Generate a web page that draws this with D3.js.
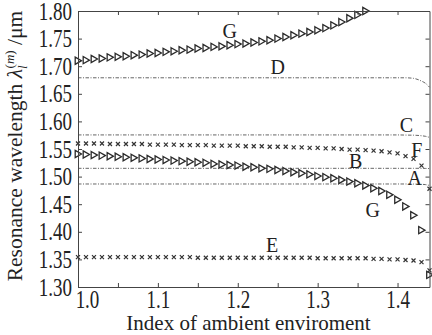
<!DOCTYPE html>
<html><head><meta charset="utf-8">
<script src="https://cdn.jsdelivr.net/npm/d3@7/dist/d3.min.js"></script>
<style>
html,body{margin:0;padding:0;background:#fff;}
svg{display:block;}
text{font-family:"Liberation Serif","Times New Roman",serif;fill:#222;}
</style></head>
<body>
<script>
// ---------- data ----------
const indexN = [1.00,1.01,1.02,1.03,1.04,1.05,1.06,1.07,1.08,1.09,1.10,1.11,1.12,1.13,1.14,1.15,1.16,1.17,1.18,1.19,1.20,1.21,1.22,1.23,1.24,1.25,1.26,1.27,1.28,1.29,1.30,1.31,1.32,1.33,1.34,1.35,1.36,1.37,1.38,1.39,1.40,1.41,1.42,1.43,1.44];
const gUpper = [1.710,1.711,1.713,1.714,1.716,1.717,1.718,1.720,1.721,1.723,1.724,1.726,1.727,1.729,1.730,1.732,1.733,1.735,1.736,1.738,1.740,1.741,1.743,1.745,1.747,1.750,1.753,1.756,1.759,1.762,1.765,1.769,1.774,1.780,1.787,1.793,1.800];
const gLower = [1.541,1.540,1.539,1.538,1.537,1.536,1.535,1.534,1.533,1.532,1.531,1.530,1.529,1.528,1.527,1.526,1.525,1.523,1.522,1.521,1.520,1.518,1.517,1.515,1.514,1.512,1.510,1.508,1.506,1.504,1.501,1.499,1.497,1.494,1.491,1.488,1.484,1.479,1.474,1.467,1.458,1.446,1.430,1.403,1.322];
const seriesF = [1.560,1.560,1.560,1.560,1.559,1.559,1.559,1.559,1.559,1.558,1.558,1.558,1.558,1.557,1.557,1.557,1.557,1.556,1.556,1.556,1.556,1.555,1.555,1.555,1.554,1.554,1.554,1.553,1.553,1.552,1.552,1.551,1.551,1.550,1.549,1.549,1.548,1.547,1.546,1.544,1.542,1.537,1.532,1.520,1.478];
const seriesE = [1.354,1.354,1.354,1.354,1.354,1.354,1.354,1.354,1.354,1.354,1.354,1.354,1.354,1.354,1.354,1.353,1.353,1.353,1.353,1.353,1.353,1.353,1.353,1.353,1.353,1.353,1.353,1.353,1.353,1.353,1.352,1.352,1.352,1.352,1.352,1.352,1.352,1.351,1.351,1.350,1.350,1.349,1.348,1.345,1.330];
const lineX = [1.00,1.10,1.20,1.30,1.35,1.38,1.40,1.41,1.42,1.43,1.435,1.44];
const seriesD = [1.679,1.679,1.679,1.679,1.679,1.679,1.679,1.679,1.678,1.673,1.669,1.662];
const seriesC = [1.5755,1.5755,1.5755,1.5755,1.5755,1.5755,1.5755,1.5752,1.575,1.574,1.573,1.571];
const seriesB = [1.515,1.515,1.515,1.515,1.515,1.515,1.515,1.515,1.515,1.515,1.5148,1.5145];
const seriesA = [1.4866,1.4866,1.4866,1.4866,1.4866,1.4866,1.4866,1.4866,1.4865,1.486,1.4855,1.484];
const labelNames = ["G","D","C","F","B","A","G","E"];
const labelX = [1.190,1.250,1.411,1.424,1.3475,1.4215,1.369,1.243];
const labelY = [1.7505,1.6859,1.5813,1.536,1.5156,1.4848,1.4268,1.3643];
const xTicks = [1.00,1.05,1.10,1.15,1.20,1.25,1.30,1.35,1.40];
const xTickLabels = ["1.0","","1.1","","1.2","","1.3","","1.4"];
const yTicks = [1.30,1.35,1.40,1.45,1.50,1.55,1.60,1.65,1.70,1.75,1.80];
const yTickLabels = ["1.30","1.35","1.40","1.45","1.50","1.55","1.60","1.65","1.70","1.75","1.80"];

// ---------- layout ----------
const W = 432, H = 335;
const L = 78, R = 429.5, T = 11, B = 287;
const svg = d3.select("body").append("svg").attr("width", W).attr("height", H);
const x = d3.scaleLinear().domain([1.0, 1.44]).range([L, R]);
const y = d3.scaleLinear().domain([1.30, 1.80]).range([B, T]);
const ink = "#2a2a2a";

// dash-dot lines
const lineGen = d3.line().x((d,i)=>x(lineX[i])).y(d=>y(d)).curve(d3.curveMonotoneX);
[seriesD, seriesC, seriesB, seriesA].forEach(s=>{
  svg.append("path").attr("d", lineGen(s)).attr("fill","none")
    .attr("stroke","#555").attr("stroke-width",0.9)
    .attr("stroke-dasharray","3.5,1.5,1,1.5");
});

// triangles
const tri = "M-2.8,-3.6L3.5,0L-2.8,3.6Z";
function triSeries(vals){
  svg.append("g").selectAll("path").data(vals).join("path")
    .attr("d", tri).attr("transform",(d,i)=>`translate(${x(indexN[i])},${y(d)})`)
    .attr("fill","#fff").attr("stroke",ink).attr("stroke-width",1.3);
}
triSeries(gUpper); triSeries(gLower);

// x marks
const cross = "M-2,-2L2,2M-2,2L2,-2";
function crossSeries(vals){
  svg.append("g").selectAll("path").data(vals).join("path")
    .attr("d", cross).attr("transform",(d,i)=>`translate(${x(indexN[i])},${y(d)})`)
    .attr("fill","none").attr("stroke","#333").attr("stroke-width",1.2);
}
crossSeries(seriesF); crossSeries(seriesE);

// axes
const axCol = "#444";
function styleAxis(g){
  g.select(".domain").attr("stroke",axCol).attr("stroke-width",1);
  g.selectAll(".tick line").attr("stroke",axCol).attr("stroke-width",1);
}
const gx = svg.append("g").attr("transform",`translate(0,${B})`)
  .call(d3.axisBottom(x).tickValues(xTicks).tickFormat((d,i)=>xTickLabels[i]).tickSizeInner(-4).tickSizeOuter(0).tickPadding(0));
styleAxis(gx);
gx.selectAll(".tick text").attr("y",0).attr("dy",0)
  .attr("transform",(d,i)=>`translate(${i===0?9:0},21) scale(1,1.3)`)
  .style("font-size","19px").style("font-family","Liberation Serif").attr("fill","#222");
const gy = svg.append("g").attr("transform",`translate(${L},0)`)
  .call(d3.axisLeft(y).tickValues(yTicks).tickFormat((d,i)=>yTickLabels[i]).tickSizeInner(-4).tickSizeOuter(0).tickPadding(6));
styleAxis(gy);
gy.selectAll(".tick text").attr("dy","0.33em").attr("transform","scale(1,1.3)")
  .style("font-size","19px").style("font-family","Liberation Serif").attr("fill","#222");
const gt = svg.append("g").attr("transform",`translate(0,${T})`)
  .call(d3.axisTop(x).tickValues(xTicks).tickFormat("").tickSizeInner(-4).tickSizeOuter(0));
styleAxis(gt);
const gr = svg.append("g").attr("transform",`translate(${R},0)`)
  .call(d3.axisRight(y).tickValues(yTicks).tickFormat("").tickSizeInner(-4).tickSizeOuter(0));
styleAxis(gr);

// curve labels
svg.append("g").selectAll("text").data(labelNames).join("text")
  .attr("x",(d,i)=>x(labelX[i])).attr("y",(d,i)=>y(labelY[i]))
  .attr("text-anchor","middle").style("font-size","20px").text(d=>d);

// axis titles
svg.append("text").attr("x",248.5).attr("y",330).attr("text-anchor","middle")
  .style("font-size","21px").text("Index of ambient enviroment");
const yl = svg.append("text").attr("transform","translate(22,146) rotate(-90)")
  .attr("text-anchor","middle").style("font-size","21.5px");
yl.append("tspan").text("Resonance wavelength ");
yl.append("tspan").style("font-style","italic").text("λ");
yl.append("tspan").style("font-size","13px").style("font-style","italic").attr("dy",5).text("l");
yl.append("tspan").style("font-size","13px").attr("dx",-3).attr("dy",-13).text("(");
yl.append("tspan").style("font-size","13px").style("font-style","italic").text("m");
yl.append("tspan").style("font-size","13px").text(")");
yl.append("tspan").attr("dy",8).text(" /μm");
</script>
</body></html>
